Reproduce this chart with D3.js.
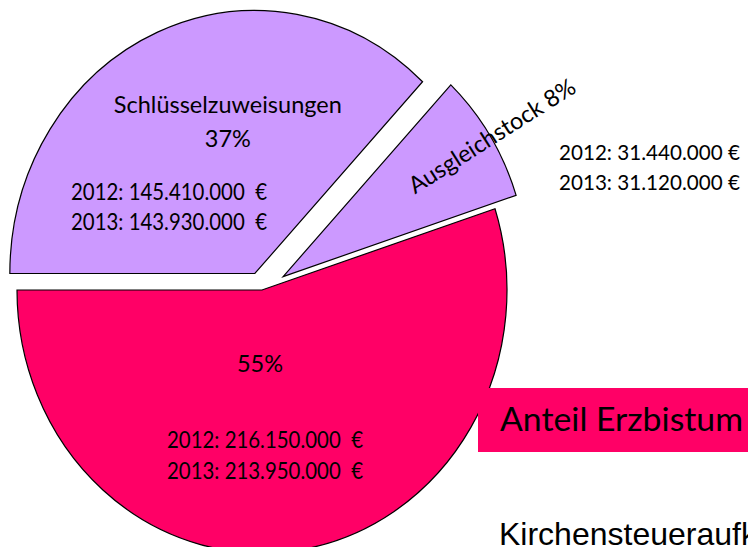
<!DOCTYPE html>
<html lang="de">
<head>
<meta charset="utf-8">
<title>Kirchensteuer Verteilung</title>
<script src="https://cdn.jsdelivr.net/npm/d3@7"></script>
<style>
  body { margin: 0; background: #fff; }
  text { font-family: Lato, "Open Sans", sans-serif; fill: #000; white-space: pre; }
</style>
</head>
<body>
<script>
// Daten (2012 bestimmt die Kreisanteile)
var categories = ["Schlüsselzuweisungen", "Ausgleichstock", "Anteil Erzbistum"];
var values2012 = [145410000, 31440000, 216150000];
var values2013 = [143930000, 31120000, 213950000];
var years = ["2012", "2013"];

var w = 748, h = 547;
var cx = 262, cy = 290;      // Kreismitte
var rx = 245, ry = 263;      // Kreis ist leicht gestreckt (Ellipse)
var explode = [18, 25, 0];   // Herausgezogene Stücke
var colors = ["#CC99FF", "#CC99FF", "#FF0066"];

var de = d3.formatLocale({decimal: ",", thousands: ".", grouping: [3], currency: ["", " €"]});
var num = de.format(",");
var pct = d3.format(".0%");
var total = d3.sum(values2012);

var svg = d3.select("body").append("svg")
    .attr("width", w)
    .attr("height", h);

var pie = d3.pie()
    .sort(null)
    .startAngle(-Math.PI / 2)
    .endAngle(3 * Math.PI / 2);

var arcs = pie(values2012);
var arc = d3.arc().innerRadius(0).outerRadius(rx);

// Mittelpunkt jedes Stücks (mit Explode-Versatz)
function sliceCenter(d, i) {
    var mid = (d.startAngle + d.endAngle) / 2;
    return [cx + explode[i] * Math.sin(mid), cy - explode[i] * Math.cos(mid)];
}

svg.selectAll("path.slice")
   .data(arcs)
   .enter()
   .append("path")
   .attr("class", "slice")
   .attr("d", arc)
   .attr("transform", function(d, i) {
        var c = sliceCenter(d, i);
        return "translate(" + c[0] + "," + c[1] + ") scale(1," + (ry / rx) + ")";
   })
   .attr("fill", function(d, i) { return colors[i]; })
   .attr("stroke", "#000")
   .attr("stroke-width", 1.2)
   .attr("vector-effect", "non-scaling-stroke");

var fs = 23.5;

// Betragszeilen (schmal wie Calibri)
function amounts(cls, vals, x, y0, dy, sep, len, size) {
    svg.selectAll("text." + cls)
       .data(vals)
       .enter().append("text")
       .attr("class", cls)
       .attr("x", x)
       .attr("y", function(d, i) { return y0 + i * dy; })
       .attr("font-size", size || fs)
       .attr("textLength", len)
       .attr("lengthAdjust", "spacingAndGlyphs")
       .text(function(d, i) { return years[i] + ": " + num(d) + sep + "€"; });
}

// Schlüsselzuweisungen
var c0 = sliceCenter(arcs[0], 0);
svg.append("text").attr("x", c0[0] - 27).attr("y", c0[1] - 160)
   .attr("text-anchor", "middle").attr("font-size", fs)
   .text(categories[0]);
svg.append("text").attr("x", c0[0] - 27).attr("y", c0[1] - 126)
   .attr("text-anchor", "middle").attr("font-size", fs)
   .text(pct(values2012[0] / total));
amounts("v0", [values2012[0], values2013[0]], 71, c0[1] - 73, 30, "  ", 196);

// Ausgleichstock
var c1 = sliceCenter(arcs[1], 1);
var mid1 = (arcs[1].startAngle + arcs[1].endAngle) / 2;
var rot1 = -(90 - mid1 * 180 / Math.PI);
svg.append("text")
   .attr("transform", "translate(" + (c1[0] + 132) + "," + (c1[1] - 82) + ") rotate(" + rot1 + ")")
   .attr("font-size", fs)
   .text(categories[1] + " " + pct(values2012[1] / total));
amounts("v1", [values2012[1], values2013[1]], 559, 160, 30, " ", 181, 21.5);

// Anteil Erzbistum
var c2 = sliceCenter(arcs[2], 2);
svg.append("text").attr("x", c2[0] - 2).attr("y", c2[1] + 82)
   .attr("text-anchor", "middle").attr("font-size", fs)
   .text(pct(values2012[2] / total));
amounts("v2", [values2012[2], values2013[2]], 167, c2[1] + 158, 31, "  ", 196);

// Legende / Titel rechts
svg.append("rect")
   .attr("x", 478).attr("y", 388)
   .attr("width", 290).attr("height", 64)
   .attr("fill", colors[2]);
svg.append("text")
   .attr("x", 500).attr("y", 431)
   .attr("font-size", 33)
   .attr("textLength", 243)
   .attr("lengthAdjust", "spacingAndGlyphs")
   .text(categories[2]);

svg.append("text")
   .attr("x", 499).attr("y", 545)
   .attr("font-size", 32)
   .style("font-family", "'Liberation Sans', Arial, sans-serif")
   .text("Kirchensteueraufkommen");
</script>
</body>
</html>
